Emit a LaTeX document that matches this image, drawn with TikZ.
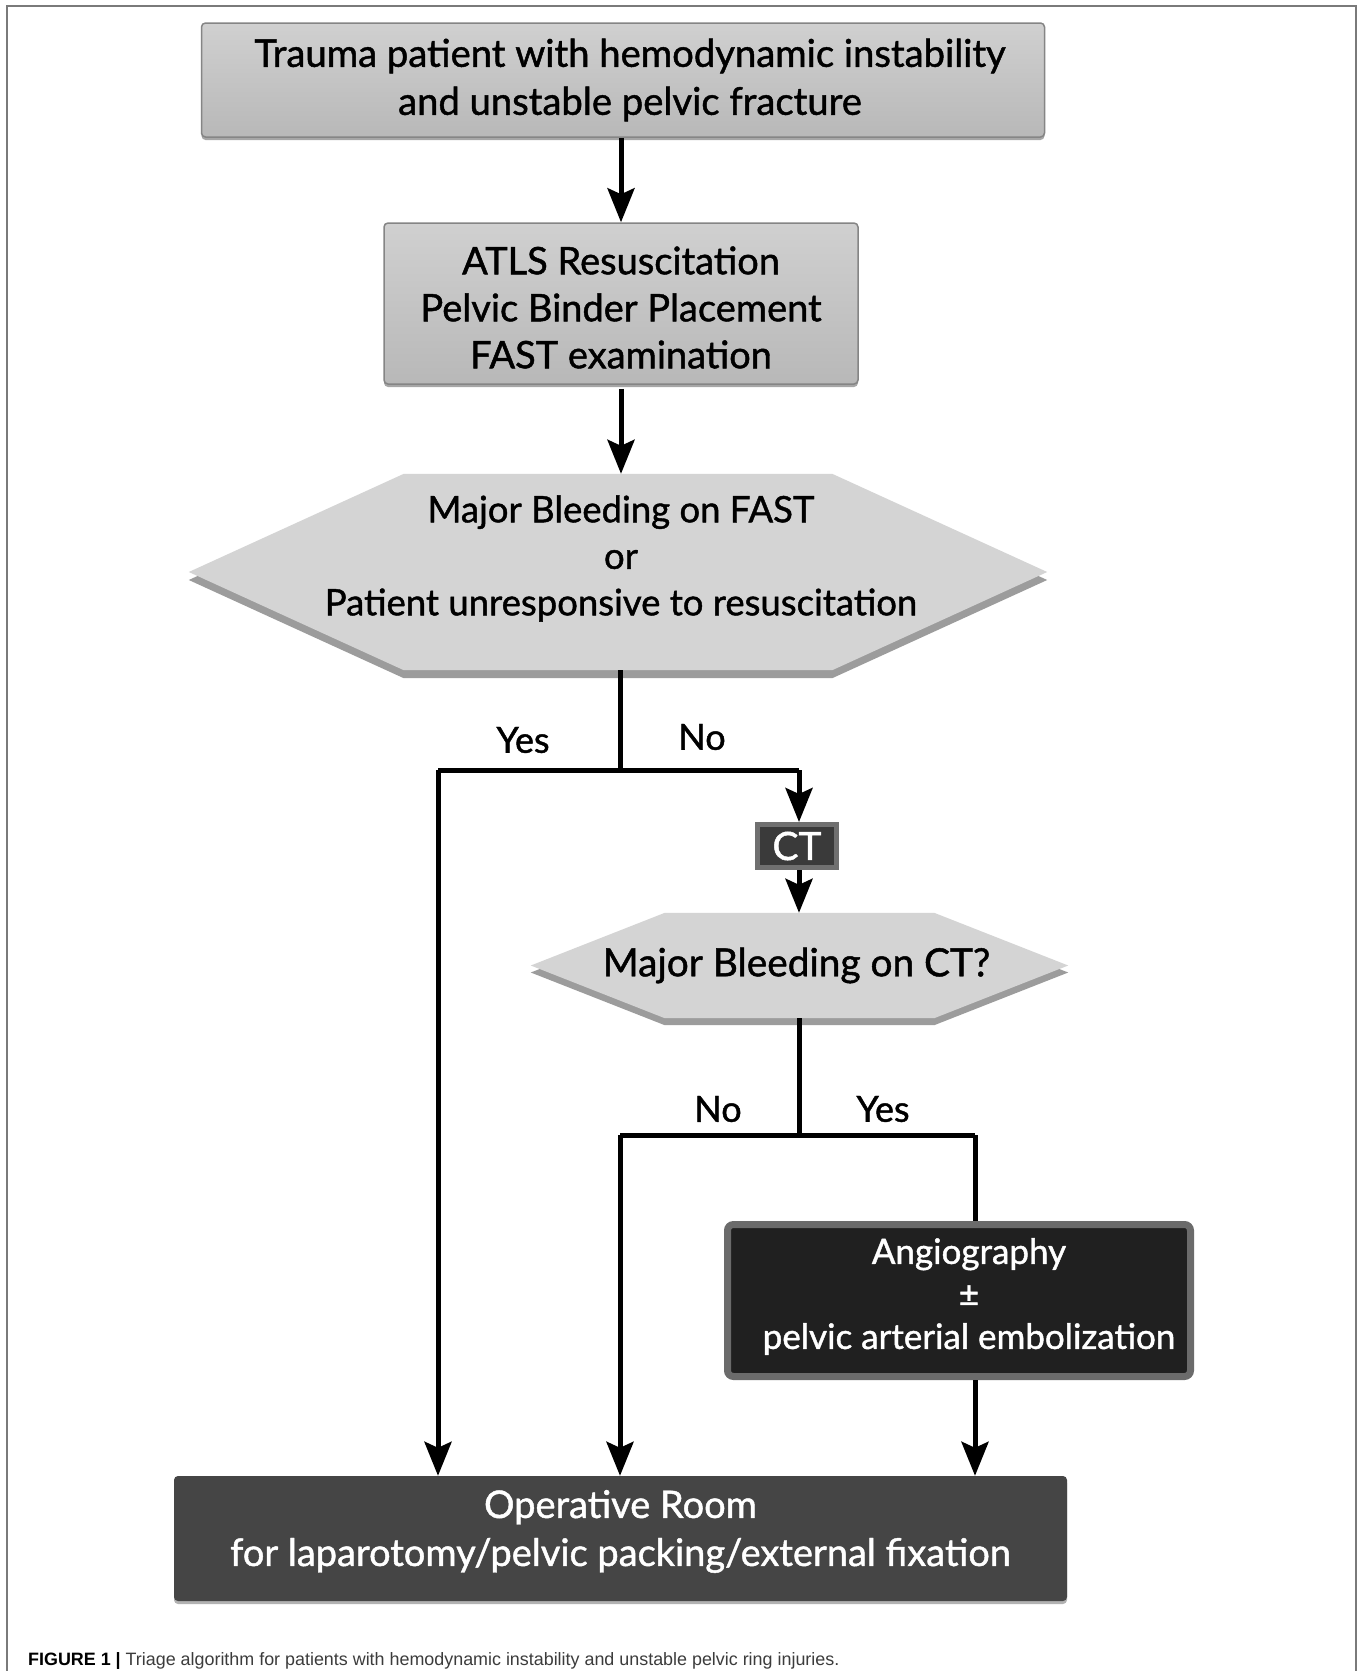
\documentclass[tikz,border=0pt]{standalone}
\usepackage{fontspec}
\setmainfont{Lato}[FakeBold=1.2]
\newfontfamily\capfont{Liberation Sans}
\usetikzlibrary{arrows.meta,shadows}
\pgfdeclarelayer{bg}
\pgfsetlayers{bg,main}
\definecolor{boxtop}{HTML}{D0D0D0}
\definecolor{boxbot}{HTML}{B8B8B8}
\definecolor{boxline}{HTML}{858585}
\definecolor{hexfill}{HTML}{D4D4D4}
\definecolor{hexshadow}{HTML}{9C9C9C}
\definecolor{darkfill}{HTML}{454545}
\definecolor{angioborder}{HTML}{6B6B6B}
\definecolor{angiofill}{HTML}{202020}
\definecolor{ctborder}{HTML}{707070}
\definecolor{ctfill}{HTML}{3A3A3A}
\definecolor{frameline}{HTML}{7A7A7A}
\definecolor{captext}{HTML}{3C3C3C}
\newcommand\drawhexagon[3]{% node name, inset, shadow offset
  \begin{pgfonlayer}{bg}
    \fill[hexshadow] ([yshift=-#3pt]#1.west) -- ([xshift=#2pt,yshift=-#3pt]#1.north west) -- ([xshift=-#2pt,yshift=-#3pt]#1.north east) -- ([yshift=-#3pt]#1.east) -- ([xshift=-#2pt,yshift=-#3pt]#1.south east) -- ([xshift=#2pt,yshift=-#3pt]#1.south west) -- cycle;
    \fill[hexfill] (#1.west) -- ([xshift=#2pt]#1.north west) -- ([xshift=-#2pt]#1.north east) -- (#1.east) -- ([xshift=-#2pt]#1.south east) -- ([xshift=#2pt]#1.south west) -- cycle;
  \end{pgfonlayer}}
\begin{document}
\begin{tikzpicture}[x=1pt,y=-1pt,
  graybox/.style={draw=boxline, line width=1.5pt, top color=boxtop, bottom color=boxbot,
    rounded corners=4pt, align=center, inner sep=0pt,
    drop shadow={shadow xshift=0pt, shadow yshift=-3pt, fill=black, opacity=0.35}},
  boxtext/.style={inner sep=0pt, align=center},
  hexnode/.style={inner sep=0pt},
  ornode/.style={fill=darkfill, rounded corners=4pt, inner sep=0pt,
    minimum width=893pt, minimum height=125pt,
    drop shadow={shadow xshift=0pt, shadow yshift=-3pt, fill=black, opacity=0.3}},
  angionode/.style={fill=angiofill, draw=angioborder, line width=7pt, rounded corners=6pt,
    inner sep=0pt, minimum width=463pt, minimum height=152pt},
  ctnode/.style={fill=ctfill, draw=ctborder, line width=5pt, inner sep=0pt, text=white,
    minimum width=79pt, minimum height=43pt, font=\fontsize{39}{42}\selectfont},
  lbl/.style={inner sep=0pt, font=\fontsize{36}{40}\selectfont},
  conn/.style={line width=5pt},
  arr/.style={line width=5pt, -{Stealth[length=34pt, width=27pt, inset=6pt]}}
]
\useasboundingbox (0,0) rectangle (1362,1671);
\begin{pgfonlayer}{bg}
\fill[white] (0,0) rectangle (1362,1671);
\end{pgfonlayer}
\draw[frameline, line width=2pt] (7,1671) -- (7,6) -- (1356,6) -- (1356,1671);

% boxes
\node[graybox, minimum width=843pt, minimum height=114pt,
  label={[boxtext, xshift=7pt, yshift=0pt, font=\fontsize{38.2}{48}\selectfont]center:{Trauma patient with hemodynamic instability\\and unstable pelvic fracture}}]
  (trauma) at (623,80) {};
\node[graybox, minimum width=474pt, minimum height=161pt,
  label={[boxtext, yshift=-4pt, font=\fontsize{38}{47}\selectfont]center:{ATLS Resuscitation\\Pelvic Binder Placement\\FAST examination}}]
  (atls) at (621,303.5) {};

\node[hexnode, minimum width=858pt, minimum height=196pt,
  label={[boxtext, xshift=3pt, yshift=13.5pt, font=\fontsize{36.5}{46.5}\selectfont]center:{Major Bleeding on FAST\\or\\Patient unresponsive to resuscitation}}]
  (hexa) at (618,572) {};
\drawhexagon{hexa}{215}{8}

\node[ctnode] (ct) at (797,846) {CT};

\node[hexnode, minimum width=537pt, minimum height=105pt,
  label={[boxtext, xshift=-3pt, font=\fontsize{38.8}{42}\selectfont]center:{Major Bleeding on CT?}}]
  (hexb) at (799.5,965.5) {};
\drawhexagon{hexb}{134}{7}

\node[angionode,
  label={[boxtext, text=white, xshift=10pt, yshift=4pt, font=\fontsize{35}{42.5}\selectfont]center:{Angiography\\±\\pelvic arterial embolization}}]
  (angio) at (959,1300.5) {};

\node[ornode,
  label={[boxtext, text=white, yshift=7pt, font=\fontsize{38}{48}\selectfont]center:{Operative Room\\for laparotomy/pelvic packing/external fixation}}]
  (orroom) at (620.5,1538.5) {};

% junction coordinates
\coordinate (ja) at (620,770);
\coordinate (jal) at (438,770);
\coordinate (jar) at (799,770);
\coordinate (jb) at (799,1135);
\coordinate (jbl) at (620,1135);
\coordinate (jbr) at (975,1135);

% connectors
\draw[arr] (trauma.south -| atls.north) -- (atls.north);
\draw[arr] ([yshift=-4pt]atls.south) -- (hexa.north -| atls.south);
\draw[conn] (hexa.south -| ja) -- (ja);
\draw[conn] (jal) -- (jar);
\draw[arr] (jal) -- (jal |- orroom.north);
\draw[arr] (jar) -- (ct.north -| jar);
\draw[arr] (ct.south -| jb) -- (hexb.north -| jb);
\draw[conn] (hexb.south -| jb) -- (jb);
\draw[conn] (jbl) -- (jbr);
\draw[arr] (jbl) -- (jbl |- orroom.north);
\draw[conn] (jbr) -- (jbr |- angio.north);
\draw[arr] (jbr |- angio.south) -- (jbr |- orroom.north);

% labels
\node[lbl] (yesa) at (523,740) {Yes};
\node[lbl] (noa) at (702,737) {No};
\node[lbl] (nob) at (718,1109) {No};
\node[lbl] (yesb) at (883,1109) {Yes};

% caption
\node[anchor=base west, inner sep=0pt, text=captext, font=\capfont\fontsize{17.9}{20}\selectfont] (caption) at (28,1665)
  {\textcolor{black}{\textbf{FIGURE 1 |}} Triage algorithm for patients with hemodynamic instability and unstable pelvic ring injuries.};
\end{tikzpicture}
\end{document}
